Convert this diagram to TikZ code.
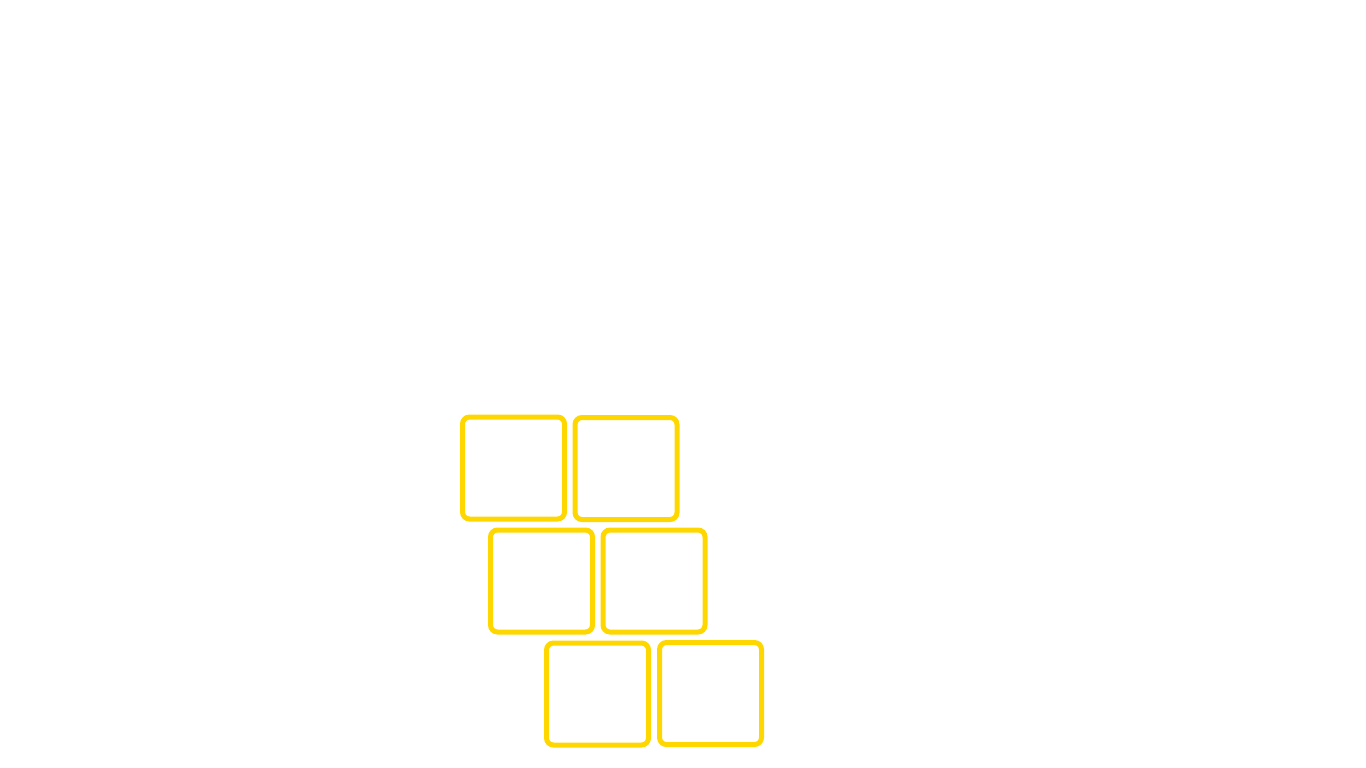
\documentclass[tikz,border=0pt]{standalone}
\definecolor{gold}{HTML}{FFD700}
\begin{document}
\begin{tikzpicture}[x=1pt,y=-1pt,
  tile/.style={draw=gold,line width=5pt,rounded corners=7pt,minimum width=102pt,minimum height=102pt,inner sep=0pt,fill=none}]
\useasboundingbox (0,0) rectangle (1366,768);
\node[tile] (b1) at (513.5,468) {};
\node[tile] (b2) at (626,468.5) {};
\node[tile] (b3) at (541.5,581) {};
\node[tile] (b4) at (654,581) {};
\node[tile] (b5) at (597.5,694) {};
\node[tile] (b6) at (710.5,693.5) {};
\end{tikzpicture}
\end{document}
